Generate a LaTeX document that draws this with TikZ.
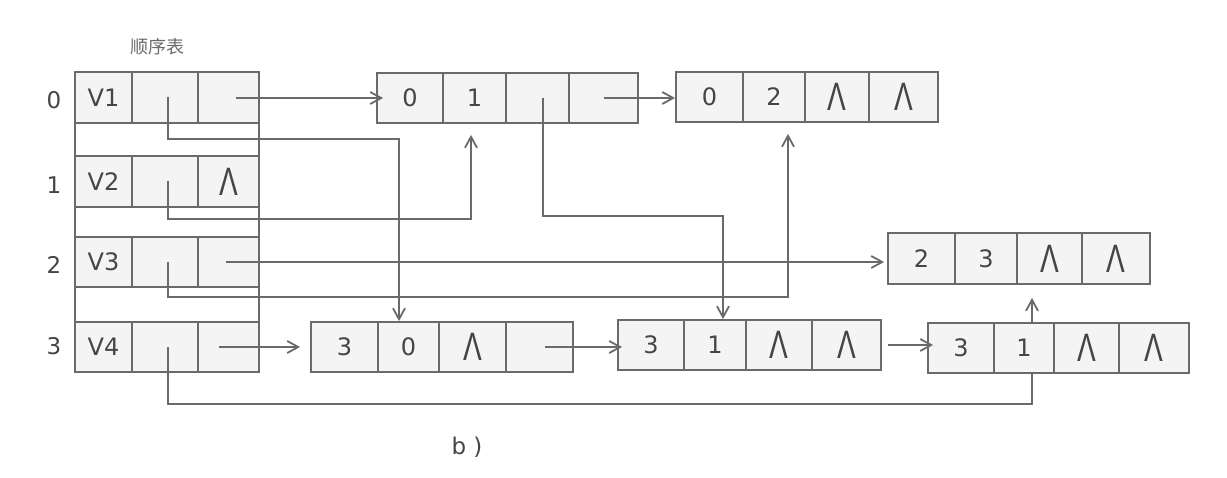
\documentclass[tikz,border=0pt]{standalone}
\usepackage{fontspec}
\usepackage{graphicx}
\setmainfont{DejaVu Sans}
\newfontfamily\cjk{Noto Sans CJK SC}
\newfontfamily\lamfont{Liberation Sans}
\usetikzlibrary{arrows.meta}
\definecolor{linec}{HTML}{6A6A6A}
\definecolor{cellc}{HTML}{F4F4F4}
\definecolor{txtc}{HTML}{454545}
\tikzset{
  cellbox/.style={draw=linec, fill=cellc, line width=1.8pt, inner sep=0pt, text=txtc, font=\fontsize{24}{26}\selectfont},
  conn/.style={draw=linec, line width=1.8pt},
  arr/.style={conn, -{Straight Barb[length=11pt,width=12pt,line width=1.8pt]}},
  idx/.style={text=txtc, font=\fontsize{23}{26}\selectfont},
}
\newcommand\lam{{\lamfont\fontsize{33}{33}\selectfont\scalebox{0.85}[1.2]{Λ}}}
\newcommand\mycell[6]{\node[cellbox, minimum width={(#3-#2)*1pt}, minimum height={(#5-#4)*1pt}] (#1) at ({(#2+#3)/2},{(#4+#5)/2}) {#6};}
\begin{document}
\begin{tikzpicture}[x=1pt,y=-1pt]
\useasboundingbox (0,0) rectangle (1227,478);
% sequential table
\node[text=linec, font=\cjk\fontsize{18}{20}\selectfont] (title) at (157,47) {顺序表};
\draw[draw=linec, fill=white, line width=1.8pt] (75,72) rectangle (259,372);
\mycell{T0v}{75}{132}{72}{123}{V1}
\mycell{T0p}{132}{198}{72}{123}{}
\mycell{T0q}{198}{259}{72}{123}{}
\mycell{T1v}{75}{132}{156}{207}{V2}
\mycell{T1p}{132}{198}{156}{207}{}
\mycell{T1q}{198}{259}{156}{207}{\lam}
\mycell{T2v}{75}{132}{237}{287}{V3}
\mycell{T2p}{132}{198}{237}{287}{}
\mycell{T2q}{198}{259}{237}{287}{}
\mycell{T3v}{75}{132}{322}{372}{V4}
\mycell{T3p}{132}{198}{322}{372}{}
\mycell{T3q}{198}{259}{322}{372}{}
\node[idx] (i0) at (54,100) {0};
\node[idx] (i1) at (54,185) {1};
\node[idx] (i2) at (54,265) {2};
\node[idx] (i3) at (54,346) {3};
% edge records
\mycell{A1}{377}{443}{73}{123}{0}
\mycell{A2}{443}{506}{73}{123}{1}
\mycell{A3}{506}{569}{73}{123}{}
\mycell{A4}{569}{638}{73}{123}{}
\mycell{B1}{676}{743}{72}{122}{0}
\mycell{B2}{743}{805}{72}{122}{2}
\mycell{B3}{805}{869}{72}{122}{\lam}
\mycell{B4}{869}{938}{72}{122}{\lam}
\mycell{C1}{888}{955}{233}{284}{2}
\mycell{C2}{955}{1017}{233}{284}{3}
\mycell{C3}{1017}{1082}{233}{284}{\lam}
\mycell{C4}{1082}{1150}{233}{284}{\lam}
\mycell{D1}{311}{378}{322}{372}{3}
\mycell{D2}{378}{439}{322}{372}{0}
\mycell{D3}{439}{506}{322}{372}{\lam}
\mycell{D4}{506}{573}{322}{372}{}
\mycell{E1}{618}{684}{320}{370}{3}
\mycell{E2}{684}{746}{320}{370}{1}
\mycell{E3}{746}{812}{320}{370}{\lam}
\mycell{E4}{812}{881}{320}{370}{\lam}
\mycell{F1}{928}{994}{323}{373}{3}
\mycell{F2}{994}{1054}{323}{373}{1}
\mycell{F3}{1054}{1119}{323}{373}{\lam}
\mycell{F4}{1119}{1189}{323}{373}{\lam}
% turning points
\coordinate (r1) at (399,139);
\coordinate (r2) at (471,219);
\coordinate (r3) at (723,216);
\coordinate (r5) at (788,297);
\coordinate (r6) at (1032,404);
% connectors
\draw[arr] ([xshift=7pt,yshift=-0.5pt]T0q.center) -- ([xshift=7pt,yshift=-0.5pt]T0q.center -| A1.west);
\draw[arr] ([xshift=3pt]T0p.center) |- (r1) -- (r1 |- D2.north);
\draw[arr, shorten >=11pt] ([xshift=3pt]T1p.center) |- (r2) -- (r2 |- A2.south);
\draw[arr] ([xshift=-3pt]T2q.center) -- ([xshift=-3pt]T2q.center -| C1.west);
\draw[arr, shorten >=11pt] ([xshift=3pt]T2p.center) |- (r5) -- (r5 |- B2.south);
\draw[arr] ([xshift=-10pt]T3q.center) -- ([xshift=-10pt]T3q.center -| D1.west);
\draw[conn] ([xshift=3pt]T3p.center) |- (r6) -- (r6 |- F2.south);
\draw[arr, shorten >=13pt] (r6 |- F2.north) -- (r6 |- C3.south);
\draw[arr] ([xshift=5.5pt]A3.center) |- (r3) -- (r3 |- E2.north);
\draw[arr] (A4.center) -- (A4.center -| B1.west);
\draw[arr] ([xshift=5pt]D4.center) -- ([xshift=5pt]D4.center -| E1.west);
\draw[arr] ([xshift=6pt]E4.east) -- ([xshift=6pt]E4.east -| F1.west);
\node[text=txtc, font=\fontsize{23}{26}\selectfont] (cap) at (467,447) {b )};
\end{tikzpicture}
\end{document}
